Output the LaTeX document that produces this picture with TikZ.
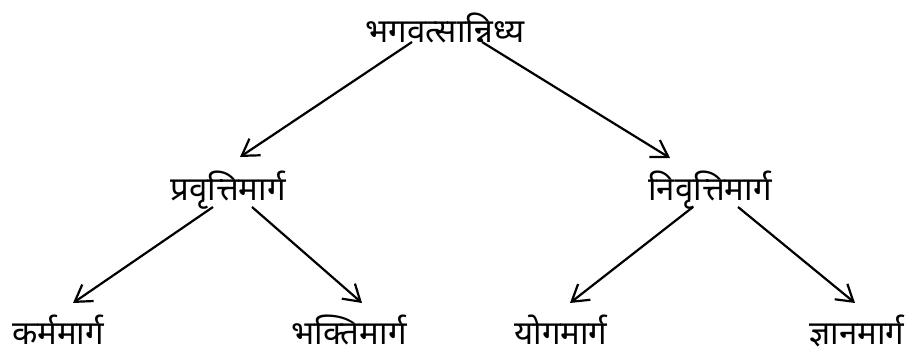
\documentclass[tikz,border=0pt]{standalone}
\usepackage{fontspec}
\usetikzlibrary{arrows.meta}
\newfontfamily\devfont[Script=Devanagari]{Noto Sans}
\definecolor{inkblack}{HTML}{000000}
\newcommand{\margfont}{\fontsize{33}{37}\selectfont\devfont}

\begin{document}
\begin{tikzpicture}[x=1pt,y=-1pt,
  marg/.style={anchor=base,inner sep=0pt,text depth=0pt,text=inkblack,font=\margfont},
  flow/.style={draw=inkblack,line width=2.2pt,-{Straight Barb[length=16pt,width=20pt,line width=2.2pt]}}]
  \useasboundingbox (0,0) rectangle (913,351);

  % root
  \node[marg] (top) at (445,42) {भगवत्सान्निध्य};

  % two ways
  \node[marg] (pravritti) at (228,200) {प्रवृत्तिमार्ग};
  \node[marg] (nivritti) at (710,200) {निवृत्तिमार्ग};

  % four paths
  \node[marg] (karma) at (58,344) {कर्ममार्ग};
  \node[marg] (bhakti) at (349,344) {भक्तिमार्ग};
  \node[marg] (yoga) at (561,344) {योगमार्ग};
  \node[marg] (jnana) at (857,344) {ज्ञानमार्ग};

  \draw[flow] ([shift={(-33,0)}]top.base) -- ([shift={(12,-43)}]pravritti.base);
  \draw[flow] ([shift={(37,0)}]top.base) -- ([shift={(-40,-42)}]nivritti.base);
  \draw[flow] ([shift={(-15,7)}]pravritti.base) -- ([shift={(15,-41)}]karma.base);
  \draw[flow] ([shift={(24,7)}]pravritti.base) -- ([shift={(13,-41)}]bhakti.base);
  \draw[flow] ([shift={(-17,7)}]nivritti.base) -- ([shift={(9,-41)}]yoga.base);
  \draw[flow] ([shift={(28,7)}]nivritti.base) -- ([shift={(-2,-41)}]jnana.base);
\end{tikzpicture}
\end{document}
